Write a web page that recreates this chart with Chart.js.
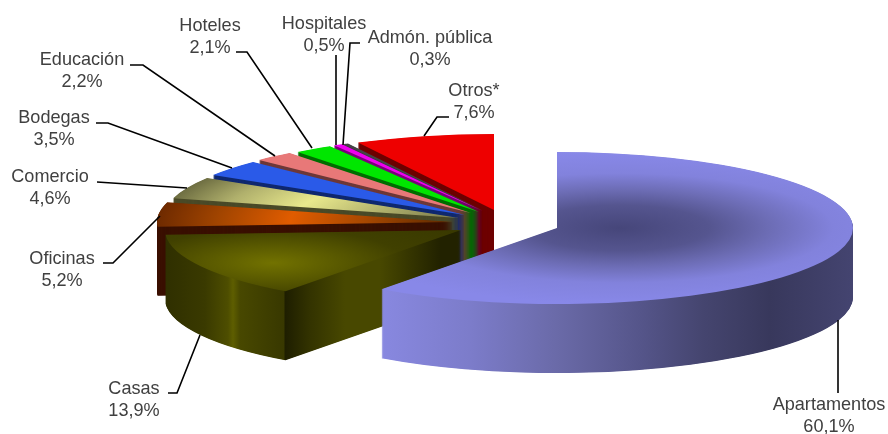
<!DOCTYPE html>
<html>
<head>
<meta charset="utf-8">
<style>
  html, body { margin: 0; padding: 0; background: #fff; overflow: hidden; }
  canvas { display: block; }
</style>
<script src="https://cdn.jsdelivr.net/npm/chart.js@4/dist/chart.umd.min.js"></script>
</head>
<body>
<canvas id="pieChart" width="888" height="434"></canvas>
<script>
const categories = ['Apartamentos', 'Casas', 'Oficinas', 'Comercio', 'Bodegas', 'Educación', 'Hoteles', 'Hospitales', 'Admón. pública', 'Otros*'];
const shares = [60.1, 13.9, 5.2, 4.6, 3.5, 2.2, 2.1, 0.5, 0.3, 7.6];
const topColors = ['#8888e8', '#6f6f00', '#e05c00', '#e8e88c', '#2a5ae8', '#e87878', '#00e600', '#ee00ee', '#444444', '#ee0000'];

// look of the fake 3D, same order as categories
const RADIUS = 296;
const TILT = 76 / 296;
const DEPTH = 69;
const apexes = [[557, 228], [461, 230], [453, 222], [459, 218], [465, 215], [471, 213], [479, 212], [483, 211], [484, 211], [494, 210]];
const wallColors = ['', '', '#3a1000', '#4a4a28', '#10296f', '#6e3838', '#006e00', '#7a007a', '#333333', '#6e0000'];
const wallStops = {
    0: [[381, '#8888e0'], [470, '#7c7cca'], [557, '#6a6aa8'], [640, '#55558a'], [703, '#45456f'], [770, '#38385c'], [853, '#444470']],
    1: [[165, '#2f2f00'], [205, '#3a3a00'], [228, '#4e4e00'], [233, '#5e5e00'], [240, '#484800'], [284, '#383800'], [285, '#1e1e00'], [310, '#333300'], [345, '#484800'], [380, '#484800'], [440, '#222200'], [460, '#222200']]
};
// radial shading of the top faces: centre relative to apex (flat pie units), then stops
const topShades = {
    0: { cx: 63, cy: 0, stops: [[0, '#46467a'], [0.3, '#55558f'], [0.5, '#6c6cb4'], [0.72, '#8282dc'], [1, '#8888e8']] },
    1: { cx: -188, cy: 128, stops: [[0, '#727200'], [0.22, '#5a5a00'], [0.45, '#404000'], [1, '#333300']] },
    2: { cx: 0, cy: 0, stops: [[0, '#5a2800'], [0.3, '#a84800'], [0.55, '#e05c00'], [0.8, '#a04400'], [1, '#6e2a00']] },
    3: { cx: 0, cy: 0, stops: [[0, '#77774a'], [0.55, '#e8e88c'], [0.8, '#b0b06c'], [1, '#6e6e42']] }
};

const labelSpots = [[829, 405], [134, 389], [62, 259], [50, 177], [54, 118], [82, 60], [210, 26], [324, 24], [430, 38], [474, 91]];
const leaders = [
    [[838, 320], [838, 393]],
    [[168, 393], [177, 393], [200, 335]],
    [[103, 263], [113, 263], [160, 216]],
    [[97, 182], [187, 188]],
    [[96, 123], [108, 123], [232, 168]],
    [[130, 65], [143, 65], [275, 156]],
    [[236, 52], [247, 52], [312, 148]],
    [[336, 55], [336, 145]],
    [[360, 43], [350, 43], [343, 145]],
    [[449, 117], [437, 117], [424, 136]]
];

function wallFill(ctx, i, arc) {
    if (!wallStops[i]) return wallColors[i];
    // x in flat pie units is screen x minus the slice shift
    const shift = apexes[i][0] - arc.x;
    const g = ctx.createLinearGradient(0 - shift, 0, 888 - shift, 0);
    wallStops[i].forEach(s => g.addColorStop(s[0] / 888, s[1]));
    return g;
}

function topFill(ctx, i, arc) {
    const shade = topShades[i];
    if (!shade) return topColors[i];
    const g = ctx.createRadialGradient(arc.x + shade.cx, arc.y + shade.cy, 0, arc.x + shade.cx, arc.y + shade.cy, RADIUS);
    shade.stops.forEach(s => g.addColorStop(s[0], s[1]));
    return g;
}

function drawFace(ctx, arc, i, fill, drop) {
    const original = arc.options;
    arc.options = Object.create(original);
    arc.options.backgroundColor = fill;
    ctx.save();
    ctx.translate(apexes[i][0], apexes[i][1] + drop);
    ctx.scale(1, TILT);
    ctx.translate(-arc.x, -arc.y);
    arc.draw(ctx);
    ctx.restore();
    arc.options = original;
}

const tiltedPie = {
    id: 'tiltedPie',
    beforeDatasetsDraw(chart) {
        const ctx = chart.ctx;
        const arcs = chart.getDatasetMeta(0).data;
        // back slices first, Apartamentos last
        for (let i = arcs.length - 1; i >= 0; i--) {
            const wall = wallFill(ctx, i, arcs[i]);
            for (let d = DEPTH; d > 0; d -= 0.5) {
                drawFace(ctx, arcs[i], i, wall, d);
            }
            drawFace(ctx, arcs[i], i, topFill(ctx, i, arcs[i]), 0);
        }
        return false;
    },
    afterDraw(chart) {
        const ctx = chart.ctx;
        ctx.save();
        ctx.strokeStyle = '#000';
        ctx.lineWidth = 1.6;
        leaders.forEach(line => {
            ctx.beginPath();
            line.forEach((p, n) => n ? ctx.lineTo(p[0], p[1]) : ctx.moveTo(p[0], p[1]));
            ctx.stroke();
        });
        ctx.fillStyle = '#404040';
        ctx.font = '18.1px "Liberation Sans"';
        ctx.textAlign = 'center';
        ctx.textBaseline = 'middle';
        categories.forEach((name, i) => {
            const percent = shares[i].toFixed(1).replace('.', ',') + '%';
            ctx.fillText(name, labelSpots[i][0], labelSpots[i][1]);
            ctx.fillText(percent, labelSpots[i][0], labelSpots[i][1] + 21.5);
        });
        ctx.restore();
    }
};

new Chart(document.getElementById('pieChart').getContext('2d'), {
    type: 'pie',
    data: {
        labels: categories,
        datasets: [{ data: shares, backgroundColor: topColors, borderWidth: 0 }]
    },
    options: {
        responsive: false,
        animation: false,
        radius: RADIUS,
        plugins: { legend: { display: false }, tooltip: { enabled: false } }
    },
    plugins: [tiltedPie]
});
</script>
</body>
</html>
